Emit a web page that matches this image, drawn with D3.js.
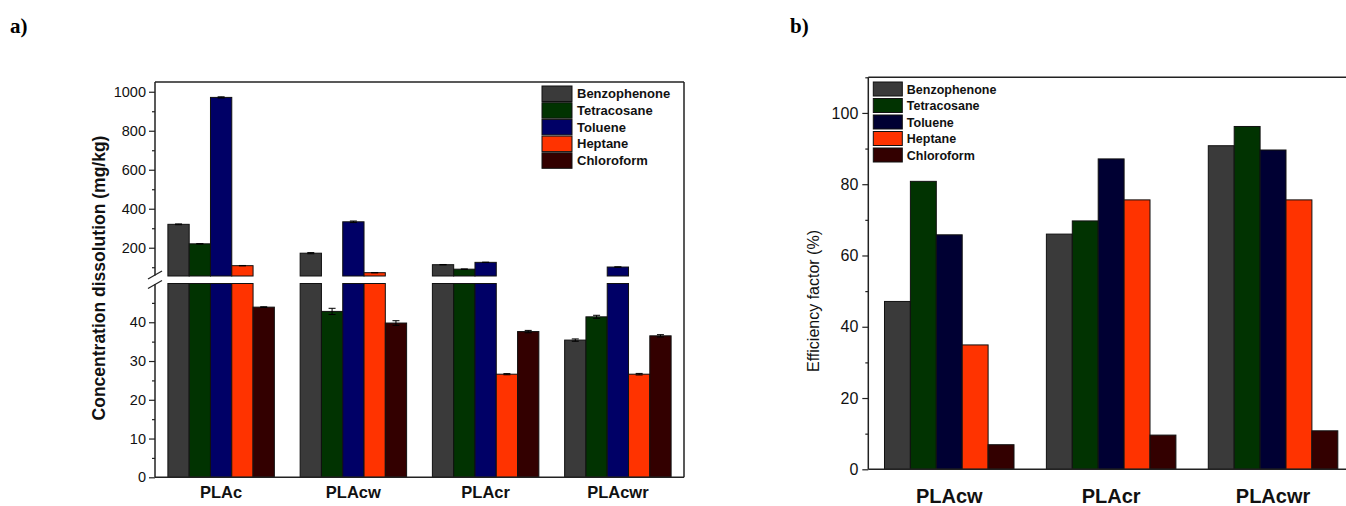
<!DOCTYPE html>
<html><head><meta charset="utf-8">
<script src="https://cdn.jsdelivr.net/npm/d3@7"></script>
<style>
html,body{margin:0;padding:0;background:#fff;}
svg{display:block;}
text{font-family:Arial,"Liberation Sans",sans-serif;}
</style></head>
<body>
<svg id="chart" width="1346" height="506"></svg>
<script>
// ---------- data ----------
const series = ["Benzophenone", "Tetracosane", "Toluene", "Heptane", "Chloroform"];
const catsA = ["PLAc", "PLAcw", "PLAcr", "PLAcwr"];
const benzoA = [320, 172, 113, 35.4];
const tetraA = [220, 42.8, 90, 41.4];
const tolueneA = [971, 333, 125, 101];
const heptaneA = [108, 72, 26.6, 26.6];
const chloroA = [43.9, 39.8, 37.6, 36.5];
const benzoErrA = [2, 3, 1, 0.3];
const tetraErrA = [1, 0.8, 1, 0.4];
const tolueneErrA = [3, 4, 1, 1];
const heptaneErrA = [1, 1, 0.15, 0.2];
const chloroErrA = [0.1, 0.6, 0.3, 0.3];
const ticksUpperA = [200, 400, 600, 800, 1000];
const ticksLowerA = [0, 10, 20, 30, 40];

const catsB = ["PLAcw", "PLAcr", "PLAcwr"];
const benzoB = [47.1, 66.0, 90.8];
const tetraB = [80.8, 69.7, 96.2];
const tolueneB = [65.8, 87.1, 89.6];
const heptaneB = [34.9, 75.6, 75.6];
const chloroB = [6.9, 9.6, 10.8];
const ticksB = [0, 20, 40, 60, 80, 100];

const colorsA = ["#3a3a3a", "#013301", "#000066", "#ff3300", "#330000"];
const colorsB = ["#3a3a3a", "#013301", "#000033", "#ff3300", "#330000"];

const svg = d3.select("#chart");
const stroke = "#111";
const fmt = d3.format("d");

// ---------- panel labels ----------
svg.append("text").attr("x", 10).attr("y", 33).text("a)")
  .style("font-family", "'Liberation Serif','Times New Roman',serif").style("font-weight", "bold").style("font-size", "21px");
svg.append("text").attr("x", 790).attr("y", 33).text("b)")
  .style("font-family", "'Liberation Serif','Times New Roman',serif").style("font-weight", "bold").style("font-size", "21px");

// ---------- panel a ----------
(function () {
  const L = 155, R = 684, T = 82, B = 477.3;
  const upTop = T, upBot = 276, lowTop = 283.5;
  const yU = d3.scaleLinear().domain([55, 1050]).range([upBot, upTop]);
  const yL = d3.scaleLinear().domain([0, 50]).range([B, lowTop]);
  const x0 = d3.scaleBand().domain(catsA).range([L, R]).paddingInner(0.195).paddingOuter(0.0975);
  const x1 = d3.scaleBand().domain(series).range([0, x0.bandwidth()]);
  const vals = [benzoA, tetraA, tolueneA, heptaneA, chloroA];
  const errs = [benzoErrA, tetraErrA, tolueneErrA, heptaneErrA, chloroErrA];
  const g = svg.append("g");
  const data = [];
  catsA.forEach((c, i) => series.forEach((s, j) => data.push({c, s, j, v: vals[j][i], e: errs[j][i]})));

  // lower segment bars
  g.selectAll("rect.low").data(data).join("rect").attr("class", "low")
    .attr("x", d => x0(d.c) + x1(d.s)).attr("width", x1.bandwidth())
    .attr("y", d => yL(Math.min(d.v, 50))).attr("height", d => yL(0) - yL(Math.min(d.v, 50)))
    .attr("fill", d => colorsA[d.j]).attr("stroke", stroke).attr("stroke-width", 1);
  // upper segment bars
  g.selectAll("rect.up").data(data.filter(d => d.v > 55)).join("rect").attr("class", "up")
    .attr("x", d => x0(d.c) + x1(d.s)).attr("width", x1.bandwidth())
    .attr("y", d => yU(d.v)).attr("height", d => yU(55) - yU(d.v))
    .attr("fill", d => colorsA[d.j]).attr("stroke", stroke).attr("stroke-width", 1);
  // error bars
  const eb = g.selectAll("g.err").data(data).join("g").attr("class", "err");
  const yy = d => d.v > 50 ? yU : yL;
  const cx = d => x0(d.c) + x1(d.s) + x1.bandwidth() / 2;
  eb.append("line").attr("x1", cx).attr("x2", cx)
    .attr("y1", d => yy(d)(d.v - d.e)).attr("y2", d => yy(d)(d.v + d.e)).attr("stroke", "#000").attr("stroke-width", 1);
  [1, -1].forEach(sg => {
    eb.append("line").attr("x1", d => cx(d) - 3.5).attr("x2", d => cx(d) + 3.5)
      .attr("y1", d => yy(d)(d.v + sg * d.e)).attr("y2", d => yy(d)(d.v + sg * d.e))
      .attr("stroke", "#000").attr("stroke-width", 1);
  });

  // frame
  g.append("line").attr("x1", L).attr("x2", R).attr("y1", T).attr("y2", T).attr("stroke", "#222").attr("stroke-width", 1.5);
  g.append("line").attr("x1", R).attr("x2", R).attr("y1", T).attr("y2", B).attr("stroke", "#222").attr("stroke-width", 1.5);
  g.append("line").attr("x1", L).attr("x2", R).attr("y1", B).attr("y2", B).attr("stroke", "#222").attr("stroke-width", 1.5);

  // axes
  const axU = d3.axisLeft(yU).tickValues(ticksUpperA).tickFormat(fmt).tickSize(6).tickPadding(3);
  const axL = d3.axisLeft(yL).tickValues(ticksLowerA).tickFormat(fmt).tickSize(6).tickPadding(3);
  const gu = g.append("g").attr("transform", `translate(${L},0)`).call(axU);
  const gl = g.append("g").attr("transform", `translate(${L},0)`).call(axL);
  gu.append("g").call(d3.axisLeft(yU).tickValues([100, 300, 500, 700, 900]).tickSize(3).tickFormat(""));
  gl.append("g").call(d3.axisLeft(yL).tickValues([5, 15, 25, 35, 45]).tickSize(3).tickFormat(""));
  [gu, gl].forEach(a => {
    a.selectAll(".domain").remove();
    a.selectAll("line").attr("stroke", "#222").attr("stroke-width", 1.2);
    a.selectAll("text").style("font-size", "14.5px").attr("fill", "#111");
  });
  g.append("line").attr("x1", L).attr("x2", L).attr("y1", T).attr("y2", upBot - 0.5).attr("stroke", "#222").attr("stroke-width", 1.5);
  g.append("line").attr("x1", L).attr("x2", L).attr("y1", lowTop + 0.5).attr("y2", B).attr("stroke", "#222").attr("stroke-width", 1.5);
  // break marks
  [upBot - 1, lowTop + 1].forEach(yb => {
    g.append("line").attr("x1", L - 7).attr("x2", L + 7).attr("y1", yb + 4).attr("y2", yb - 4).attr("stroke", "#222").attr("stroke-width", 1.3);
  });

  // category labels
  g.selectAll("text.cat").data(catsA).join("text").attr("class", "cat")
    .attr("x", d => x0(d) + x0.bandwidth() / 2).attr("y", 498).attr("text-anchor", "middle")
    .style("font-weight", "bold").style("font-size", "16.5px").attr("fill", "#111").text(d => d);

  // y label
  g.append("text").attr("transform", "translate(105,278) rotate(-90)").attr("text-anchor", "middle")
    .style("font-weight", "bold").style("font-size", "17.5px").attr("fill", "#111").text("Concentration dissolution (mg/kg)");

  // legend
  const lg = g.append("g").attr("transform", "translate(542,86)");
  series.forEach((s, j) => {
    lg.append("rect").attr("x", 0).attr("y", j * 16.7).attr("width", 30).attr("height", 15.5)
      .attr("fill", colorsA[j]).attr("stroke", stroke).attr("stroke-width", 1);
    lg.append("text").attr("x", 35).attr("y", j * 16.7 + 12.3).style("font-weight", "bold").style("font-size", "13px")
      .attr("fill", "#111").text(s);
  });
})();

// ---------- panel b ----------
(function () {
  const L = 868.3, R = 1354, T = 77.3, B = 469.3;
  const y = d3.scaleLinear().domain([0, 110]).range([B, T]);
  const x0 = d3.scaleBand().domain(catsB).range([L, R]).paddingInner(0.2).paddingOuter(0.1);
  const x1 = d3.scaleBand().domain(series).range([0, x0.bandwidth()]);
  const vals = [benzoB, tetraB, tolueneB, heptaneB, chloroB];
  const g = svg.append("g");
  const data = [];
  catsB.forEach((c, i) => series.forEach((s, j) => data.push({c, s, j, v: vals[j][i]})));
  g.selectAll("rect.bar").data(data).join("rect").attr("class", "bar")
    .attr("x", d => x0(d.c) + x1(d.s)).attr("width", x1.bandwidth())
    .attr("y", d => y(d.v)).attr("height", d => y(0) - y(d.v))
    .attr("fill", d => colorsB[d.j]).attr("stroke", stroke).attr("stroke-width", 1);

  g.append("line").attr("x1", L).attr("x2", R).attr("y1", T).attr("y2", T).attr("stroke", "#222").attr("stroke-width", 1.5);
  g.append("line").attr("x1", L).attr("x2", R).attr("y1", B).attr("y2", B).attr("stroke", "#222").attr("stroke-width", 1.5);

  const ga = g.append("g").attr("transform", `translate(${L},0)`)
    .call(d3.axisLeft(y).tickValues(ticksB).tickFormat(fmt).tickSize(6).tickPadding(4));
  ga.append("g").call(d3.axisLeft(y).tickValues([10, 30, 50, 70, 90, 110]).tickSize(3).tickFormat(""));
  ga.selectAll(".domain").remove();
  ga.selectAll("line").attr("stroke", "#222").attr("stroke-width", 1.2);
  ga.selectAll("text").style("font-size", "16px").attr("fill", "#111");
  g.append("line").attr("x1", L).attr("x2", L).attr("y1", T).attr("y2", B).attr("stroke", "#222").attr("stroke-width", 1.5);

  g.selectAll("text.cat").data(catsB).join("text").attr("class", "cat")
    .attr("x", d => x0(d) + x0.bandwidth() / 2).attr("y", 503).attr("text-anchor", "middle")
    .style("font-weight", "bold").style("font-size", "20px").attr("fill", "#111").text(d => d);

  g.append("text").attr("transform", "translate(819,301) rotate(-90)").attr("text-anchor", "middle")
    .style("font-size", "16px").attr("fill", "#111").text("Efficiency factor (%)");

  const lg = g.append("g").attr("transform", "translate(873.3,82)");
  series.forEach((s, j) => {
    lg.append("rect").attr("x", 0).attr("y", j * 16.5).attr("width", 29).attr("height", 14)
      .attr("fill", colorsB[j]).attr("stroke", stroke).attr("stroke-width", 1);
    lg.append("text").attr("x", 33.5).attr("y", j * 16.5 + 11.8).style("font-weight", "bold").style("font-size", "12.5px")
      .attr("fill", "#111").text(s);
  });
})();
</script>
</body></html>
